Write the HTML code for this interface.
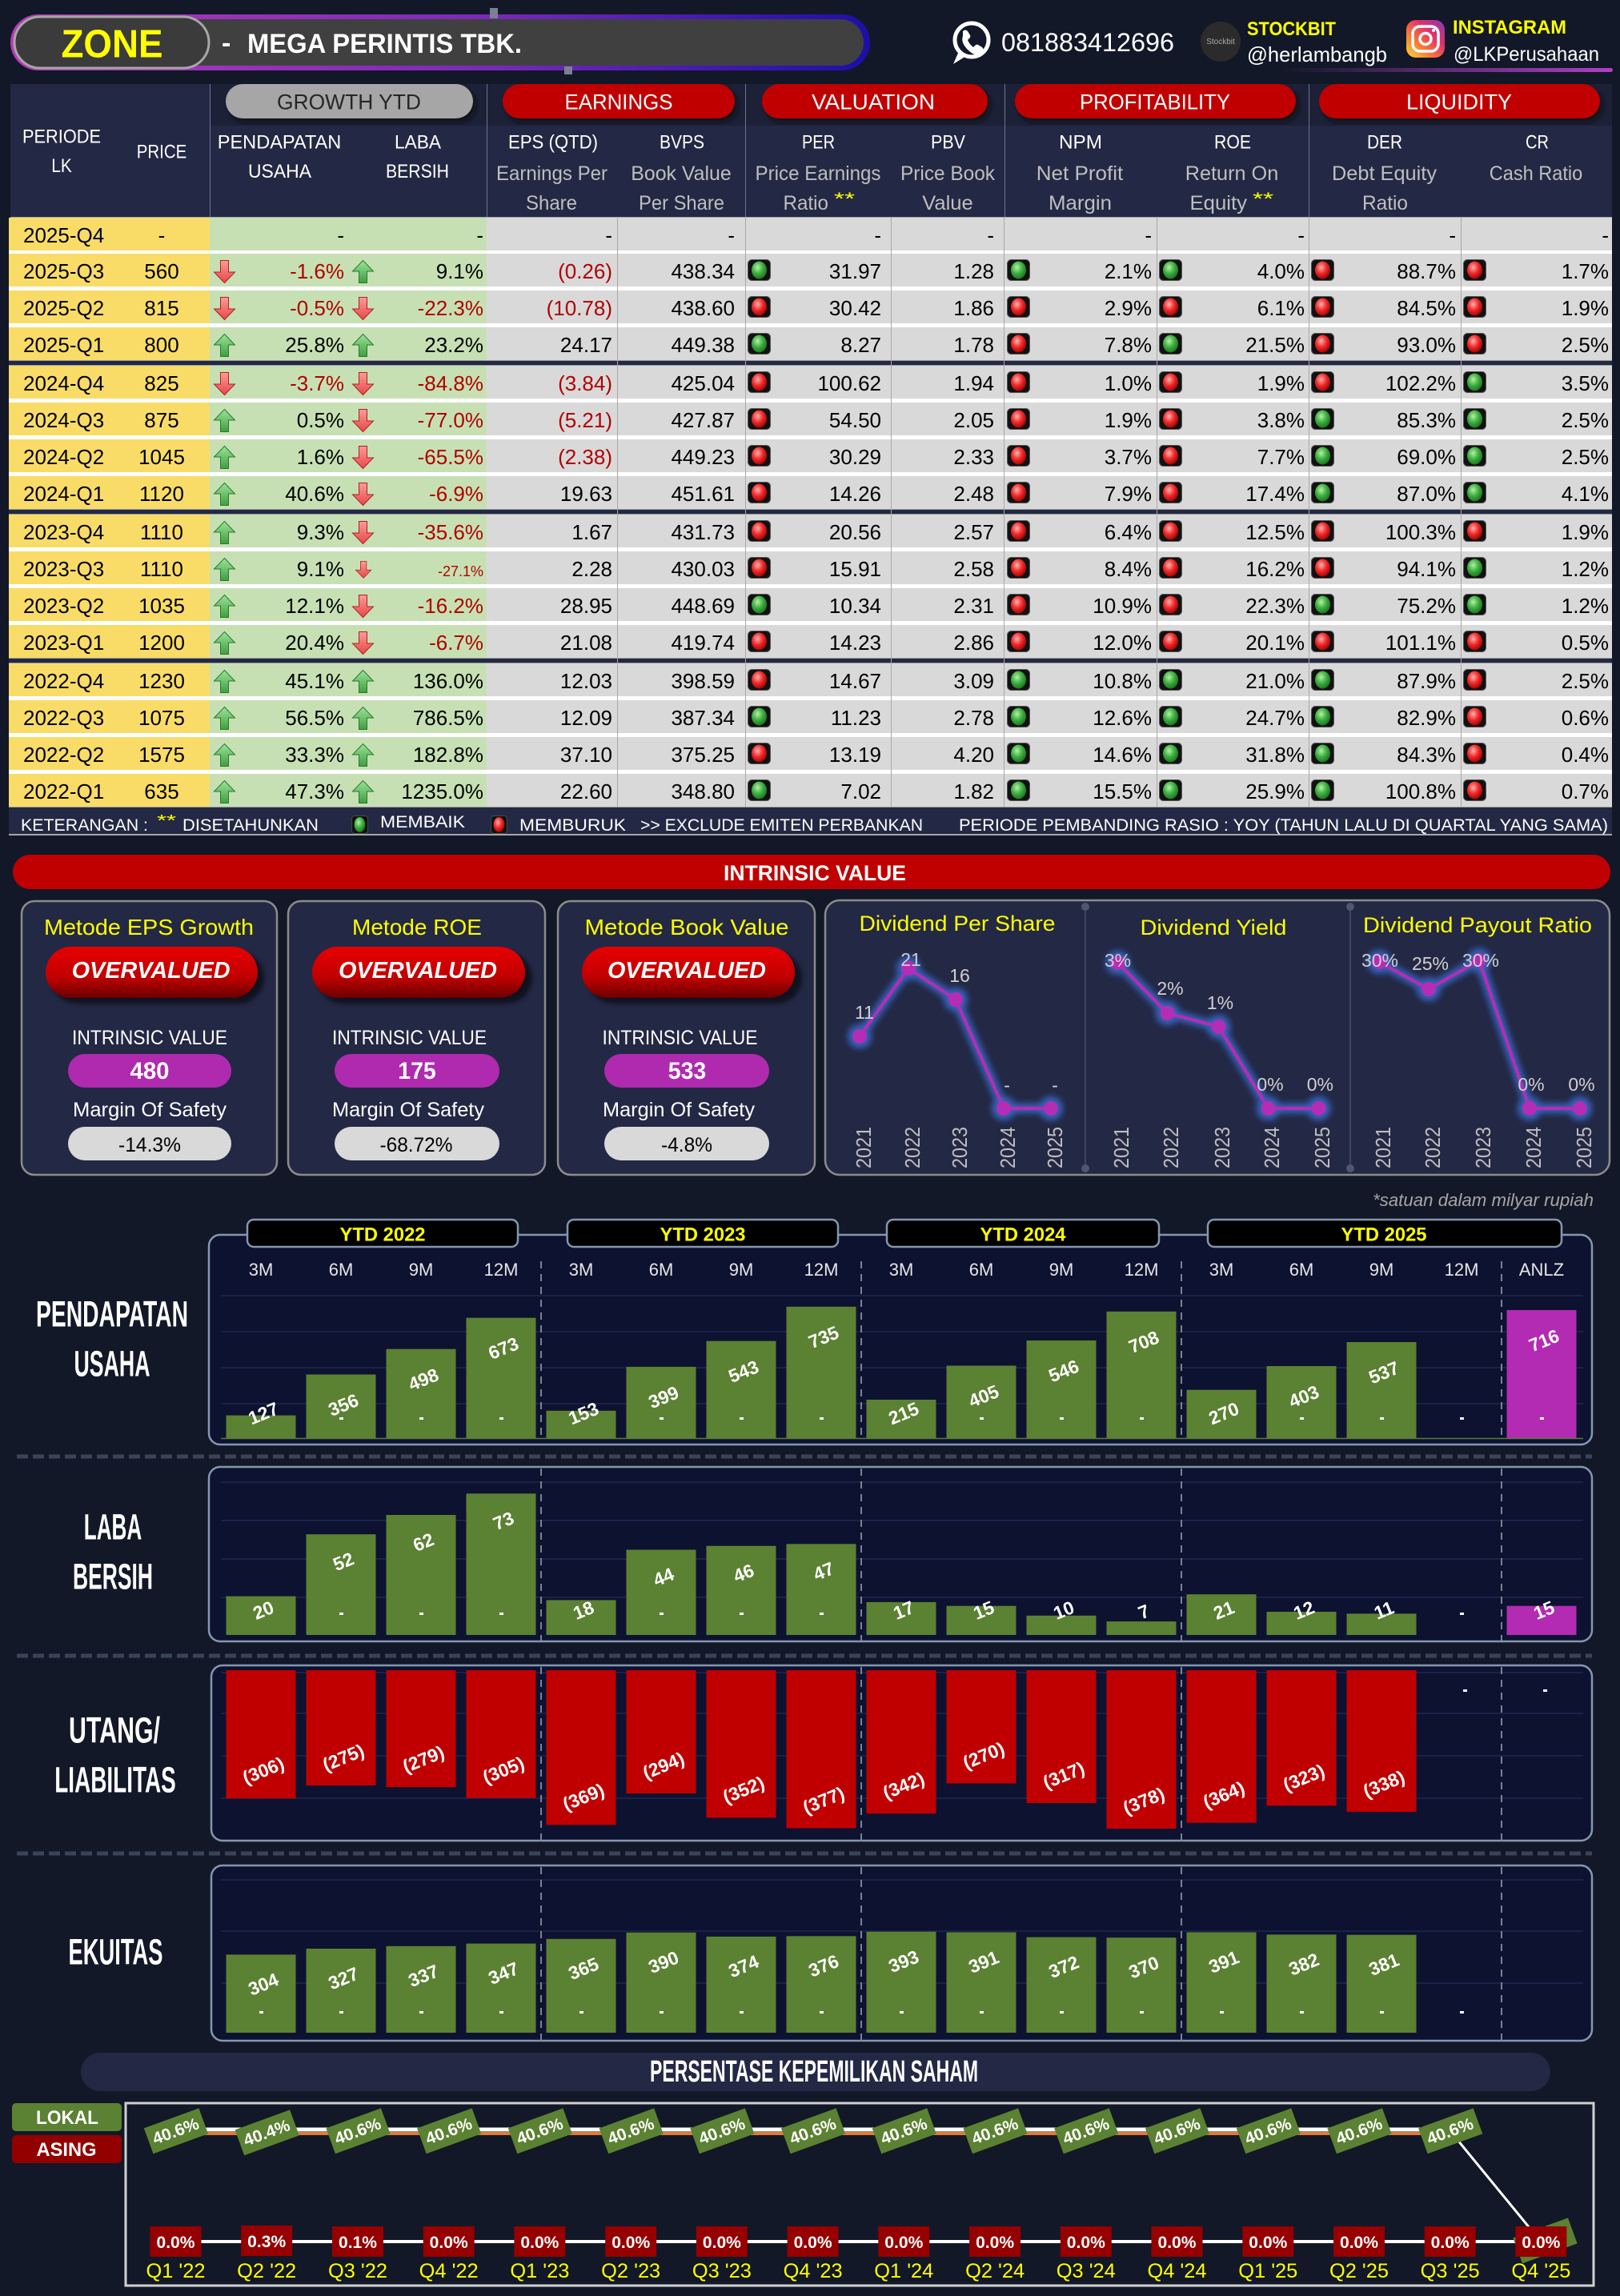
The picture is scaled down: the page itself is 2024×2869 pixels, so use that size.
<!DOCTYPE html>
<html><head><meta charset="utf-8">
<style>
html,body{margin:0;padding:0;background:#121827;width:2024px;height:2869px;overflow:hidden}
svg{display:block}
text{font-family:"Liberation Sans",sans-serif}
.m{text-anchor:middle}.e{text-anchor:end}.b{font-weight:bold}.w{fill:#fff}.yl{fill:#ff0}.n{fill:#b00000}
.tb text{font-size:26px;fill:#000}
.tb text.n{fill:#b00000}
.sh{font-size:24px;fill:#fff;text-anchor:middle}
.sg{font-size:25px;fill:#bfbfbf;text-anchor:middle}
.bl{font-size:23px;font-weight:bold;fill:#fff;text-anchor:middle}
.ml{font-size:22px;fill:#e6e6e6;text-anchor:middle}
.sl{font-size:45px;font-weight:bold;fill:#fff;text-anchor:middle}
.dv{font-size:23px;fill:#d0d0d0;text-anchor:middle}
.yr{font-size:26px;fill:#bfbfbf;text-anchor:middle}
.ol{font-size:21px;font-weight:bold;fill:#fff;text-anchor:middle}
.xl{font-size:25px;fill:#ff0;text-anchor:middle}
.lgt{font-size:21px;fill:#fff}
</style></head>
<body>
<svg xmlns="http://www.w3.org/2000/svg" width="2024" height="2869" viewBox="0 0 2024 2869">
<defs>
<linearGradient id="ring" x1="0" x2="1"><stop offset="0" stop-color="#b43ab8"/><stop offset=".55" stop-color="#7a2ab8"/><stop offset="1" stop-color="#1c0fa6"/></linearGradient>
<linearGradient id="hl" x1="0" x2="1"><stop offset="0" stop-color="#b040c8" stop-opacity="0"/><stop offset="1" stop-color="#b040c8"/></linearGradient>
<linearGradient id="ig" x1="0" y1="1" x2="1" y2="0"><stop offset="0" stop-color="#fdd835"/><stop offset=".35" stop-color="#f77737"/><stop offset=".65" stop-color="#e1306c"/><stop offset="1" stop-color="#833ab4"/></linearGradient>
<linearGradient id="ov" x1="0" y1="0" x2="0" y2="1"><stop offset="0" stop-color="#e80000"/><stop offset=".6" stop-color="#c00000"/><stop offset="1" stop-color="#6a0000"/></linearGradient>
<linearGradient id="ug" x1="0" y1="0" x2="0" y2="1"><stop offset="0" stop-color="#9be39b"/><stop offset="1" stop-color="#3f9e3f"/></linearGradient>
<linearGradient id="dg" x1="0" y1="0" x2="0" y2="1"><stop offset="0" stop-color="#ff9a9a"/><stop offset="1" stop-color="#e54848"/></linearGradient>
<radialGradient id="glg" cx=".4" cy=".35" r=".7"><stop offset="0" stop-color="#b6f0a0"/><stop offset=".5" stop-color="#3cb043"/><stop offset="1" stop-color="#1b6e1b"/></radialGradient>
<radialGradient id="rlg" cx=".4" cy=".35" r=".7"><stop offset="0" stop-color="#ffb0b0"/><stop offset=".5" stop-color="#f02a2a"/><stop offset="1" stop-color="#9a0000"/></radialGradient>
<filter id="blur" x="-30%" y="-30%" width="160%" height="160%"><feGaussianBlur stdDeviation="4"/></filter>
<filter id="sb" x="-20%" y="-30%" width="140%" height="160%"><feGaussianBlur stdDeviation="3"/></filter>
<g id="up"><polygon points="13.5,0.5 26.5,14 18.5,14 18.5,28.5 8.5,28.5 8.5,14 0.5,14" fill="url(#ug)" stroke="#2b7a2b" stroke-width="1"/></g>
<g id="dn"><polygon points="13.5,28.5 26.5,15 18.5,15 18.5,0.5 8.5,0.5 8.5,15 0.5,15" fill="url(#dg)" stroke="#b02020" stroke-width="1"/></g>
<g id="lg"><rect x=".5" y=".5" width="28" height="26" rx="5" fill="#111" stroke="#555"/><ellipse cx="14.5" cy="13.5" rx="9.5" ry="11" fill="url(#glg)"/></g>
<g id="lr"><rect x=".5" y=".5" width="28" height="26" rx="5" fill="#111" stroke="#555"/><ellipse cx="14.5" cy="13.5" rx="9.5" ry="11" fill="url(#rlg)"/></g>
<g id="rb"><rect x="11" width="251" height="41" fill="#f9dc67"/><rect x="262" width="346" height="41" fill="#c6e0b4"/><rect x="608" width="1406" height="41" fill="#d9d9d9"/></g>
<g id="gb"><rect x="-36" y="-17" width="73" height="34" fill="#5b8132"/></g>
</defs>

<rect width="2024" height="2869" fill="#121827"/>

<!-- HEADER -->
<rect x="13" y="18" width="1074" height="70" rx="35" fill="url(#ring)"/>
<rect x="19" y="24" width="1060" height="58" rx="29" fill="#404040"/>
<rect x="18" y="21" width="243" height="64" rx="32" fill="#3b3b3b" stroke="#a6a6a6" stroke-width="3"/>
<text x="140" y="71.5" class="m b" font-size="49" fill="#ff0" textLength="127" lengthAdjust="spacingAndGlyphs">ZONE</text>
<text x="277" y="65" class="b w" font-size="34">-</text>
<text x="309" y="66" class="b w" font-size="34" textLength="343" lengthAdjust="spacingAndGlyphs">MEGA PERINTIS TBK.</text>
<rect x="612" y="10" width="10" height="13" fill="#7d7f95"/>
<rect x="705" y="83" width="10" height="10" fill="#7d7f95"/>

<circle cx="1214" cy="50" r="21" fill="none" stroke="#fff" stroke-width="5"/>
<path d="M1198 64 L1191 80 L1207 70 Z" fill="#fff"/>
<path d="M1203 39 q3 -3 6 0 l3 5 q1 2 -1 4 l-2 2 q2 5 7 9 l2 -2 q2 -2 4 -1 l5 3 q3 3 0 6 l-3 3 q-6 3 -15 -6 q-9 -9 -6 -17 z" fill="#fff"/>
<text x="1251" y="64" class="w" font-size="32" textLength="216" lengthAdjust="spacingAndGlyphs">081883412696</text>
<circle cx="1525" cy="52" r="25" fill="#2b2b2b"/>
<text x="1525" y="55" class="m" font-size="10" fill="#aaa">Stockbit</text>
<text x="1558" y="44" class="b" font-size="24" fill="#ff0" textLength="111" lengthAdjust="spacingAndGlyphs">STOCKBIT</text>
<text x="1558" y="77" class="w" font-size="26" textLength="175" lengthAdjust="spacingAndGlyphs">@herlambangb</text>
<rect x="1757" y="25" width="48" height="47" rx="12" fill="url(#ig)"/>
<rect x="1765" y="33" width="32" height="31" rx="9" fill="none" stroke="#fff" stroke-width="3.5"/>
<circle cx="1781" cy="48.5" r="7" fill="none" stroke="#fff" stroke-width="3.5"/>
<circle cx="1791" cy="38" r="2" fill="#fff"/>
<text x="1815" y="42" class="b" font-size="24" fill="#ff0" textLength="142" lengthAdjust="spacingAndGlyphs">INSTAGRAM</text>
<text x="1816" y="76" class="w" font-size="25" textLength="182" lengthAdjust="spacingAndGlyphs">@LKPerusahaan</text>
<rect x="1600" y="85" width="415" height="5" rx="2.5" fill="url(#hl)"/>

<!-- TABLE HEADER -->
<rect x="13" y="105" width="2001" height="166" fill="#232944"/>
<rect x="262" y="105" width="1752" height="52" fill="#1c2138"/>
<g stroke="#6d7390" stroke-width="1">
<line x1="262.5" y1="105" x2="262.5" y2="271"/><line x1="608.5" y1="105" x2="608.5" y2="271"/><line x1="931.5" y1="105" x2="931.5" y2="271"/><line x1="1255.5" y1="105" x2="1255.5" y2="271"/><line x1="1635.5" y1="105" x2="1635.5" y2="271"/>
</g>
<g fill="#07090f" opacity=".7" filter="url(#sb)">
<rect x="286" y="110" width="309" height="43" rx="21.5"/><rect x="632" y="110" width="290" height="43" rx="21.5"/><rect x="956" y="110" width="282" height="43" rx="21.5"/><rect x="1272" y="110" width="351" height="43" rx="21.5"/><rect x="1652" y="110" width="351" height="43" rx="21.5"/>
</g>
<rect x="282" y="105" width="309" height="43" rx="21.5" fill="#a6a6a6"/>
<rect x="628" y="105" width="290" height="43" rx="21.5" fill="#c00000"/>
<rect x="952" y="105" width="282" height="43" rx="21.5" fill="#c00000"/>
<rect x="1268" y="105" width="351" height="43" rx="21.5" fill="#c00000"/>
<rect x="1648" y="105" width="351" height="43" rx="21.5" fill="#c00000"/>
<text x="436" y="136.5" class="m" font-size="27" fill="#262626" textLength="180" lengthAdjust="spacingAndGlyphs">GROWTH YTD</text>
<text x="773" y="136.5" class="m w" font-size="27" textLength="135" lengthAdjust="spacingAndGlyphs">EARNINGS</text>
<text x="1091" y="136.5" class="m w" font-size="27" textLength="154" lengthAdjust="spacingAndGlyphs">VALUATION</text>
<text x="1443" y="136.5" class="m w" font-size="27" textLength="188" lengthAdjust="spacingAndGlyphs">PROFITABILITY</text>
<text x="1823" y="136.5" class="m w" font-size="27" textLength="132" lengthAdjust="spacingAndGlyphs">LIQUIDITY</text>

<text x="77" y="178.5" class="sh" textLength="98" lengthAdjust="spacingAndGlyphs">PERIODE</text>
<text x="77" y="215" class="sh" textLength="25.5" lengthAdjust="spacingAndGlyphs">LK</text>
<text x="202" y="197.5" class="sh" textLength="62.5" lengthAdjust="spacingAndGlyphs">PRICE</text>
<text x="349" y="185.5" class="sh" textLength="154.5" lengthAdjust="spacingAndGlyphs">PENDAPATAN</text>
<text x="349.5" y="222" class="sh" textLength="79" lengthAdjust="spacingAndGlyphs">USAHA</text>
<text x="522" y="185.5" class="sh" textLength="58" lengthAdjust="spacingAndGlyphs">LABA</text>
<text x="521.5" y="222" class="sh" textLength="79" lengthAdjust="spacingAndGlyphs">BERSIH</text>
<text x="691" y="185.5" class="sh" textLength="112" lengthAdjust="spacingAndGlyphs">EPS (QTD)</text>
<text x="689.5" y="225" class="sg" textLength="139" lengthAdjust="spacingAndGlyphs">Earnings Per</text>
<text x="689" y="262" class="sg" textLength="64" lengthAdjust="spacingAndGlyphs">Share</text>
<text x="852" y="185.5" class="sh" textLength="56" lengthAdjust="spacingAndGlyphs">BVPS</text>
<text x="851" y="225" class="sg" textLength="125.5" lengthAdjust="spacingAndGlyphs">Book Value</text>
<text x="851.5" y="262" class="sg" textLength="107" lengthAdjust="spacingAndGlyphs">Per Share</text>
<text x="1022.5" y="185.5" class="sh" textLength="41" lengthAdjust="spacingAndGlyphs">PER</text>
<text x="1022" y="225" class="sg" textLength="157" lengthAdjust="spacingAndGlyphs">Price Earnings</text>
<text x="978.5" y="262" font-size="25" fill="#bfbfbf" textLength="56.5" lengthAdjust="spacingAndGlyphs">Ratio</text>
<text x="1042" y="256" font-size="22" fill="#ff0" textLength="26" lengthAdjust="spacingAndGlyphs">**</text>
<text x="1184.5" y="185.5" class="sh" textLength="43" lengthAdjust="spacingAndGlyphs">PBV</text>
<text x="1184" y="225" class="sg" textLength="118" lengthAdjust="spacingAndGlyphs">Price Book</text>
<text x="1184" y="262" class="sg" textLength="63.5" lengthAdjust="spacingAndGlyphs">Value</text>
<text x="1350" y="185.5" class="sh" textLength="54" lengthAdjust="spacingAndGlyphs">NPM</text>
<text x="1349" y="225" class="sg" textLength="108.5" lengthAdjust="spacingAndGlyphs">Net Profit</text>
<text x="1349.5" y="262" class="sg" textLength="79" lengthAdjust="spacingAndGlyphs">Margin</text>
<text x="1540" y="185.5" class="sh" textLength="46" lengthAdjust="spacingAndGlyphs">ROE</text>
<text x="1539" y="225" class="sg" textLength="116.5" lengthAdjust="spacingAndGlyphs">Return On</text>
<text x="1486.5" y="262" font-size="25" fill="#bfbfbf" textLength="71.5" lengthAdjust="spacingAndGlyphs">Equity</text>
<text x="1565" y="256" font-size="22" fill="#ff0" textLength="26" lengthAdjust="spacingAndGlyphs">**</text>
<text x="1730" y="185.5" class="sh" textLength="44" lengthAdjust="spacingAndGlyphs">DER</text>
<text x="1729.5" y="225" class="sg" textLength="131" lengthAdjust="spacingAndGlyphs">Debt Equity</text>
<text x="1730.5" y="262" class="sg" textLength="57" lengthAdjust="spacingAndGlyphs">Ratio</text>
<text x="1920.5" y="185.5" class="sh" textLength="29" lengthAdjust="spacingAndGlyphs">CR</text>
<text x="1919" y="225" class="sg" textLength="116.5" lengthAdjust="spacingAndGlyphs">Cash Ratio</text>
<line x1="13" y1="271.5" x2="2014" y2="271.5" stroke="#a6a6a6"/>

<!-- TABLE BODY -->
<rect x="11" y="272" width="2003" height="736" fill="#fff"/>
<use href="#rb" y="272"/><use href="#rb" y="317"/><use href="#rb" y="363"/><use href="#rb" y="409"/>
<use href="#rb" y="457"/><use href="#rb" y="503"/><use href="#rb" y="549"/><use href="#rb" y="595"/>
<use href="#rb" y="643"/><use href="#rb" y="689"/><use href="#rb" y="735"/><use href="#rb" y="781"/>
<use href="#rb" y="829"/><use href="#rb" y="875"/><use href="#rb" y="921"/><use href="#rb" y="967"/>
<g fill="#232944"><rect x="11" y="450" width="2003" height="7"/><rect x="11" y="636" width="2003" height="7"/><rect x="11" y="822" width="2003" height="7"/><rect x="11" y="1008" width="2003" height="35"/></g>
<g stroke="#9a9a9a" stroke-width="1">
<line x1="11" y1="450.5" x2="2014" y2="450.5"/><line x1="11" y1="456.5" x2="2014" y2="456.5"/>
<line x1="11" y1="636.5" x2="2014" y2="636.5"/><line x1="11" y1="642.5" x2="2014" y2="642.5"/>
<line x1="11" y1="822.5" x2="2014" y2="822.5"/><line x1="11" y1="828.5" x2="2014" y2="828.5"/>
<line x1="11" y1="1008.5" x2="2014" y2="1008.5"/>
</g>
<g stroke="#a8a8a8" stroke-width="1">
<line x1="771.5" y1="272" x2="771.5" y2="1008"/><line x1="931.5" y1="272" x2="931.5" y2="1008"/><line x1="1113.5" y1="272" x2="1113.5" y2="1008"/><line x1="1254.5" y1="272" x2="1254.5" y2="1008"/><line x1="1445.5" y1="272" x2="1445.5" y2="1008"/><line x1="1635.5" y1="272" x2="1635.5" y2="1008"/><line x1="1825.5" y1="272" x2="1825.5" y2="1008"/>
</g>

<g class="tb">
<g transform="translate(0,303)"><text x="29">2025-Q4</text><text x="202" class="m">-</text><text x="430" class="e">-</text><text x="604" class="e">-</text><text x="765" class="e">-</text><text x="918" class="e">-</text><text x="1101" class="e">-</text><text x="1242" class="e">-</text><text x="1439" class="e">-</text><text x="1630" class="e">-</text><text x="1819" class="e">-</text><text x="2010" class="e">-</text></g>

<g transform="translate(0,348)"><text x="29">2025-Q3</text><text x="202" class="m">560</text><use href="#dn" x="267" y="-23"/><text x="430" class="e n">-1.6%</text><use href="#up" x="440" y="-23"/><text x="604" class="e">9.1%</text><text x="765" class="e n">(0.26)</text><text x="918" class="e">438.34</text><use href="#lg" x="934" y="-24"/><text x="1101" class="e">31.97</text><text x="1242" class="e">1.28</text><use href="#lg" x="1258" y="-24"/><text x="1439" class="e">2.1%</text><use href="#lg" x="1448" y="-24"/><text x="1630" class="e">4.0%</text><use href="#lr" x="1638" y="-24"/><text x="1819" class="e">88.7%</text><use href="#lr" x="1828" y="-24"/><text x="2010" class="e">1.7%</text></g>

<g transform="translate(0,394)"><text x="29">2025-Q2</text><text x="202" class="m">815</text><use href="#dn" x="267" y="-23"/><text x="430" class="e n">-0.5%</text><use href="#dn" x="440" y="-23"/><text x="604" class="e n">-22.3%</text><text x="765" class="e n">(10.78)</text><text x="918" class="e">438.60</text><use href="#lr" x="934" y="-24"/><text x="1101" class="e">30.42</text><text x="1242" class="e">1.86</text><use href="#lr" x="1258" y="-24"/><text x="1439" class="e">2.9%</text><use href="#lr" x="1448" y="-24"/><text x="1630" class="e">6.1%</text><use href="#lr" x="1638" y="-24"/><text x="1819" class="e">84.5%</text><use href="#lr" x="1828" y="-24"/><text x="2010" class="e">1.9%</text></g>

<g transform="translate(0,440)"><text x="29">2025-Q1</text><text x="202" class="m">800</text><use href="#up" x="267" y="-23"/><text x="430" class="e">25.8%</text><use href="#up" x="440" y="-23"/><text x="604" class="e">23.2%</text><text x="765" class="e">24.17</text><text x="918" class="e">449.38</text><use href="#lg" x="934" y="-24"/><text x="1101" class="e">8.27</text><text x="1242" class="e">1.78</text><use href="#lr" x="1258" y="-24"/><text x="1439" class="e">7.8%</text><use href="#lg" x="1448" y="-24"/><text x="1630" class="e">21.5%</text><use href="#lr" x="1638" y="-24"/><text x="1819" class="e">93.0%</text><use href="#lr" x="1828" y="-24"/><text x="2010" class="e">2.5%</text></g>

<g transform="translate(0,488)"><text x="29">2024-Q4</text><text x="202" class="m">825</text><use href="#dn" x="267" y="-23"/><text x="430" class="e n">-3.7%</text><use href="#dn" x="440" y="-23"/><text x="604" class="e n">-84.8%</text><text x="765" class="e n">(3.84)</text><text x="918" class="e">425.04</text><use href="#lr" x="934" y="-24"/><text x="1101" class="e">100.62</text><text x="1242" class="e">1.94</text><use href="#lr" x="1258" y="-24"/><text x="1439" class="e">1.0%</text><use href="#lr" x="1448" y="-24"/><text x="1630" class="e">1.9%</text><use href="#lr" x="1638" y="-24"/><text x="1819" class="e">102.2%</text><use href="#lg" x="1828" y="-24"/><text x="2010" class="e">3.5%</text></g>

<g transform="translate(0,534)"><text x="29">2024-Q3</text><text x="202" class="m">875</text><use href="#up" x="267" y="-23"/><text x="430" class="e">0.5%</text><use href="#dn" x="440" y="-23"/><text x="604" class="e n">-77.0%</text><text x="765" class="e n">(5.21)</text><text x="918" class="e">427.87</text><use href="#lr" x="934" y="-24"/><text x="1101" class="e">54.50</text><text x="1242" class="e">2.05</text><use href="#lr" x="1258" y="-24"/><text x="1439" class="e">1.9%</text><use href="#lr" x="1448" y="-24"/><text x="1630" class="e">3.8%</text><use href="#lg" x="1638" y="-24"/><text x="1819" class="e">85.3%</text><use href="#lg" x="1828" y="-24"/><text x="2010" class="e">2.5%</text></g>

<g transform="translate(0,580)"><text x="29">2024-Q2</text><text x="202" class="m">1045</text><use href="#up" x="267" y="-23"/><text x="430" class="e">1.6%</text><use href="#dn" x="440" y="-23"/><text x="604" class="e n">-65.5%</text><text x="765" class="e n">(2.38)</text><text x="918" class="e">449.23</text><use href="#lr" x="934" y="-24"/><text x="1101" class="e">30.29</text><text x="1242" class="e">2.33</text><use href="#lr" x="1258" y="-24"/><text x="1439" class="e">3.7%</text><use href="#lr" x="1448" y="-24"/><text x="1630" class="e">7.7%</text><use href="#lg" x="1638" y="-24"/><text x="1819" class="e">69.0%</text><use href="#lg" x="1828" y="-24"/><text x="2010" class="e">2.5%</text></g>

<g transform="translate(0,626)"><text x="29">2024-Q1</text><text x="202" class="m">1120</text><use href="#up" x="267" y="-23"/><text x="430" class="e">40.6%</text><use href="#dn" x="440" y="-23"/><text x="604" class="e n">-6.9%</text><text x="765" class="e">19.63</text><text x="918" class="e">451.61</text><use href="#lr" x="934" y="-24"/><text x="1101" class="e">14.26</text><text x="1242" class="e">2.48</text><use href="#lr" x="1258" y="-24"/><text x="1439" class="e">7.9%</text><use href="#lr" x="1448" y="-24"/><text x="1630" class="e">17.4%</text><use href="#lg" x="1638" y="-24"/><text x="1819" class="e">87.0%</text><use href="#lg" x="1828" y="-24"/><text x="2010" class="e">4.1%</text></g>

<g transform="translate(0,674)"><text x="29">2023-Q4</text><text x="202" class="m">1110</text><use href="#up" x="267" y="-23"/><text x="430" class="e">9.3%</text><use href="#dn" x="440" y="-23"/><text x="604" class="e n">-35.6%</text><text x="765" class="e">1.67</text><text x="918" class="e">431.73</text><use href="#lr" x="934" y="-24"/><text x="1101" class="e">20.56</text><text x="1242" class="e">2.57</text><use href="#lr" x="1258" y="-24"/><text x="1439" class="e">6.4%</text><use href="#lr" x="1448" y="-24"/><text x="1630" class="e">12.5%</text><use href="#lr" x="1638" y="-24"/><text x="1819" class="e">100.3%</text><use href="#lr" x="1828" y="-24"/><text x="2010" class="e">1.9%</text></g>

<g transform="translate(0,720)"><text x="29">2023-Q3</text><text x="202" class="m">1110</text><use href="#up" x="267" y="-23"/><text x="430" class="e">9.1%</text><use href="#dn" transform="translate(444,-19) scale(.75)"/><text x="604" class="e n" style="font-size:18px">-27.1%</text><text x="765" class="e">2.28</text><text x="918" class="e">430.03</text><use href="#lr" x="934" y="-24"/><text x="1101" class="e">15.91</text><text x="1242" class="e">2.58</text><use href="#lr" x="1258" y="-24"/><text x="1439" class="e">8.4%</text><use href="#lr" x="1448" y="-24"/><text x="1630" class="e">16.2%</text><use href="#lr" x="1638" y="-24"/><text x="1819" class="e">94.1%</text><use href="#lg" x="1828" y="-24"/><text x="2010" class="e">1.2%</text></g>

<g transform="translate(0,766)"><text x="29">2023-Q2</text><text x="202" class="m">1035</text><use href="#up" x="267" y="-23"/><text x="430" class="e">12.1%</text><use href="#dn" x="440" y="-23"/><text x="604" class="e n">-16.2%</text><text x="765" class="e">28.95</text><text x="918" class="e">448.69</text><use href="#lg" x="934" y="-24"/><text x="1101" class="e">10.34</text><text x="1242" class="e">2.31</text><use href="#lr" x="1258" y="-24"/><text x="1439" class="e">10.9%</text><use href="#lr" x="1448" y="-24"/><text x="1630" class="e">22.3%</text><use href="#lg" x="1638" y="-24"/><text x="1819" class="e">75.2%</text><use href="#lg" x="1828" y="-24"/><text x="2010" class="e">1.2%</text></g>

<g transform="translate(0,812)"><text x="29">2023-Q1</text><text x="202" class="m">1200</text><use href="#up" x="267" y="-23"/><text x="430" class="e">20.4%</text><use href="#dn" x="440" y="-23"/><text x="604" class="e n">-6.7%</text><text x="765" class="e">21.08</text><text x="918" class="e">419.74</text><use href="#lr" x="934" y="-24"/><text x="1101" class="e">14.23</text><text x="1242" class="e">2.86</text><use href="#lr" x="1258" y="-24"/><text x="1439" class="e">12.0%</text><use href="#lr" x="1448" y="-24"/><text x="1630" class="e">20.1%</text><use href="#lr" x="1638" y="-24"/><text x="1819" class="e">101.1%</text><use href="#lr" x="1828" y="-24"/><text x="2010" class="e">0.5%</text></g>

<g transform="translate(0,860)"><text x="29">2022-Q4</text><text x="202" class="m">1230</text><use href="#up" x="267" y="-23"/><text x="430" class="e">45.1%</text><use href="#up" x="440" y="-23"/><text x="604" class="e">136.0%</text><text x="765" class="e">12.03</text><text x="918" class="e">398.59</text><use href="#lr" x="934" y="-24"/><text x="1101" class="e">14.67</text><text x="1242" class="e">3.09</text><use href="#lg" x="1258" y="-24"/><text x="1439" class="e">10.8%</text><use href="#lg" x="1448" y="-24"/><text x="1630" class="e">21.0%</text><use href="#lg" x="1638" y="-24"/><text x="1819" class="e">87.9%</text><use href="#lr" x="1828" y="-24"/><text x="2010" class="e">2.5%</text></g>

<g transform="translate(0,906)"><text x="29">2022-Q3</text><text x="202" class="m">1075</text><use href="#up" x="267" y="-23"/><text x="430" class="e">56.5%</text><use href="#up" x="440" y="-23"/><text x="604" class="e">786.5%</text><text x="765" class="e">12.09</text><text x="918" class="e">387.34</text><use href="#lg" x="934" y="-24"/><text x="1101" class="e">11.23</text><text x="1242" class="e">2.78</text><use href="#lg" x="1258" y="-24"/><text x="1439" class="e">12.6%</text><use href="#lg" x="1448" y="-24"/><text x="1630" class="e">24.7%</text><use href="#lg" x="1638" y="-24"/><text x="1819" class="e">82.9%</text><use href="#lr" x="1828" y="-24"/><text x="2010" class="e">0.6%</text></g>

<g transform="translate(0,952)"><text x="29">2022-Q2</text><text x="202" class="m">1575</text><use href="#up" x="267" y="-23"/><text x="430" class="e">33.3%</text><use href="#up" x="440" y="-23"/><text x="604" class="e">182.8%</text><text x="765" class="e">37.10</text><text x="918" class="e">375.25</text><use href="#lr" x="934" y="-24"/><text x="1101" class="e">13.19</text><text x="1242" class="e">4.20</text><use href="#lg" x="1258" y="-24"/><text x="1439" class="e">14.6%</text><use href="#lg" x="1448" y="-24"/><text x="1630" class="e">31.8%</text><use href="#lg" x="1638" y="-24"/><text x="1819" class="e">84.3%</text><use href="#lr" x="1828" y="-24"/><text x="2010" class="e">0.4%</text></g>

<g transform="translate(0,998)"><text x="29">2022-Q1</text><text x="202" class="m">635</text><use href="#up" x="267" y="-23"/><text x="430" class="e">47.3%</text><use href="#up" x="440" y="-23"/><text x="604" class="e">1235.0%</text><text x="765" class="e">22.60</text><text x="918" class="e">348.80</text><use href="#lg" x="934" y="-24"/><text x="1101" class="e">7.02</text><text x="1242" class="e">1.82</text><use href="#lg" x="1258" y="-24"/><text x="1439" class="e">15.5%</text><use href="#lg" x="1448" y="-24"/><text x="1630" class="e">25.9%</text><use href="#lg" x="1638" y="-24"/><text x="1819" class="e">100.8%</text><use href="#lr" x="1828" y="-24"/><text x="2010" class="e">0.7%</text></g>
</g>

<!-- LEGEND ROW -->
<line x1="11" y1="1043" x2="2014" y2="1043" stroke="#a6a6a6" stroke-width="2"/>
<text x="26" y="1038" class="lgt" textLength="159" lengthAdjust="spacingAndGlyphs">KETERANGAN :</text>
<text x="196" y="1032" font-size="20" fill="#ff0" textLength="24" lengthAdjust="spacingAndGlyphs">**</text>
<text x="228" y="1038" class="lgt" textLength="170" lengthAdjust="spacingAndGlyphs">DISETAHUNKAN</text>
<use href="#lg" transform="translate(439,1019) scale(.72,.85)"/>
<text x="475" y="1034" class="lgt" textLength="106" lengthAdjust="spacingAndGlyphs">MEMBAIK</text>
<use href="#lr" transform="translate(613,1019) scale(.72,.85)"/>
<text x="649" y="1038" class="lgt" textLength="133" lengthAdjust="spacingAndGlyphs">MEMBURUK</text>
<text x="800" y="1038" class="lgt" textLength="353" lengthAdjust="spacingAndGlyphs">&gt;&gt; EXCLUDE EMITEN PERBANKAN</text>
<text x="1198" y="1038" class="lgt" textLength="811" lengthAdjust="spacingAndGlyphs">PERIODE PEMBANDING RASIO : YOY (TAHUN LALU DI QUARTAL YANG SAMA)</text>

<!-- INTRINSIC VALUE -->
<rect x="16" y="1068" width="1996" height="43" rx="21.5" fill="#c00000"/>
<text x="1018" y="1100" class="m b w" font-size="27" textLength="228" lengthAdjust="spacingAndGlyphs">INTRINSIC VALUE</text>

<g stroke="#8c8c8c" stroke-width="2.5" fill="#232845">
<rect x="27" y="1126" width="319" height="342" rx="16"/>
<rect x="360" y="1126" width="321" height="342" rx="16"/>
<rect x="697" y="1126" width="321" height="342" rx="16"/>
<rect x="1031" y="1125" width="980" height="343" rx="18"/>
</g>
<g fill="#000" opacity=".55" filter="url(#sb)">
<rect x="64" y="1190" width="266" height="64" rx="32"/><rect x="397" y="1190" width="268" height="64" rx="32"/><rect x="734" y="1190" width="268" height="64" rx="32"/>
</g>
<g fill="url(#ov)">
<rect x="57" y="1183" width="265" height="64" rx="32"/><rect x="390" y="1183" width="266" height="64" rx="32"/><rect x="727" y="1183" width="266" height="64" rx="32"/>
</g>
<g class="b w" font-size="29" font-style="italic">
<text x="188.6" y="1222" class="m" textLength="198" lengthAdjust="spacingAndGlyphs">OVERVALUED</text>
<text x="522" y="1222" class="m" textLength="198" lengthAdjust="spacingAndGlyphs">OVERVALUED</text>
<text x="858" y="1222" class="m" textLength="198" lengthAdjust="spacingAndGlyphs">OVERVALUED</text>
</g>
<g font-size="28" fill="#ff0">
<text x="186" y="1168" class="m" textLength="262" lengthAdjust="spacingAndGlyphs">Metode EPS Growth</text>
<text x="521" y="1168" class="m" textLength="162" lengthAdjust="spacingAndGlyphs">Metode ROE</text>
<text x="858" y="1168" class="m" textLength="255" lengthAdjust="spacingAndGlyphs">Metode Book Value</text>
</g>
<g font-size="25" fill="#fff">
<text x="187" y="1305" class="m" textLength="194" lengthAdjust="spacingAndGlyphs">INTRINSIC VALUE</text>
<text x="511.5" y="1305" class="m" textLength="193" lengthAdjust="spacingAndGlyphs">INTRINSIC VALUE</text>
<text x="849.5" y="1305" class="m" textLength="194" lengthAdjust="spacingAndGlyphs">INTRINSIC VALUE</text>
<text x="187" y="1395" class="m" textLength="192" lengthAdjust="spacingAndGlyphs">Margin Of Safety</text>
<text x="510" y="1395" class="m" textLength="190" lengthAdjust="spacingAndGlyphs">Margin Of Safety</text>
<text x="848" y="1395" class="m" textLength="190" lengthAdjust="spacingAndGlyphs">Margin Of Safety</text>
</g>
<g fill="#b02ab0"><rect x="85" y="1317" width="204" height="42" rx="21"/><rect x="418" y="1317" width="206" height="42" rx="21"/><rect x="755" y="1317" width="206" height="42" rx="21"/></g>
<g fill="#d9d9d9"><rect x="85" y="1408" width="204" height="42" rx="21"/><rect x="418" y="1408" width="206" height="42" rx="21"/><rect x="755" y="1408" width="206" height="42" rx="21"/></g>
<g class="b w" font-size="30">
<text x="187" y="1348" class="m" textLength="49" lengthAdjust="spacingAndGlyphs">480</text>
<text x="521" y="1348" class="m" textLength="47.5" lengthAdjust="spacingAndGlyphs">175</text>
<text x="858.5" y="1348" class="m" textLength="47.5" lengthAdjust="spacingAndGlyphs">533</text>
</g>
<g font-size="25" fill="#000">
<text x="187" y="1439" class="m" textLength="78" lengthAdjust="spacingAndGlyphs">-14.3%</text>
<text x="520" y="1439" class="m" textLength="91" lengthAdjust="spacingAndGlyphs">-68.72%</text>
<text x="858" y="1439" class="m" textLength="64" lengthAdjust="spacingAndGlyphs">-4.8%</text>
</g>

<!-- DIVIDEND CHARTS -->
<g stroke="#4a506a" stroke-width="1.5"><line x1="1356" y1="1133" x2="1356" y2="1460"/><line x1="1687" y1="1133" x2="1687" y2="1460"/></g>
<g fill="#50566e"><circle cx="1356" cy="1133" r="5"/><circle cx="1356" cy="1460" r="5"/><circle cx="1687" cy="1133" r="5"/><circle cx="1687" cy="1460" r="5"/></g>
<g font-size="27" fill="#ff0">
<text x="1196" y="1163" class="m" textLength="245" lengthAdjust="spacingAndGlyphs">Dividend Per Share</text>
<text x="1516" y="1168" class="m" textLength="183" lengthAdjust="spacingAndGlyphs">Dividend Yield</text>
<text x="1846" y="1165" class="m" textLength="286" lengthAdjust="spacingAndGlyphs">Dividend Payout Ratio</text>
</g>
<g filter="url(#blur)" opacity=".8">
<polyline points="1074,1295 1135,1210 1194,1249 1254,1385 1313,1385" fill="none" stroke="#3d6fd6" stroke-width="12"/>
<polyline points="1396.5,1203 1458.6,1266 1522.6,1283 1584.7,1385 1647.5,1385" fill="none" stroke="#3d6fd6" stroke-width="12"/>
<polyline points="1723,1202 1785,1236 1848,1200 1911,1385 1974,1385" fill="none" stroke="#3d6fd6" stroke-width="12"/>
<g fill="#3d6fd6"><circle cx="1074" cy="1295" r="15"/><circle cx="1135" cy="1210" r="15"/><circle cx="1194" cy="1249" r="15"/><circle cx="1254" cy="1385" r="15"/><circle cx="1313" cy="1385" r="15"/><circle cx="1396.5" cy="1203" r="15"/><circle cx="1458.6" cy="1266" r="15"/><circle cx="1522.6" cy="1283" r="15"/><circle cx="1584.7" cy="1385" r="15"/><circle cx="1647.5" cy="1385" r="15"/><circle cx="1723" cy="1202" r="15"/><circle cx="1785" cy="1236" r="15"/><circle cx="1848" cy="1200" r="15"/><circle cx="1911" cy="1385" r="15"/><circle cx="1974" cy="1385" r="15"/></g>
</g>
<g fill="none" stroke="#b42db4" stroke-width="4">
<polyline points="1074,1295 1135,1210 1194,1249 1254,1385 1313,1385"/>
<polyline points="1396.5,1203 1458.6,1266 1522.6,1283 1584.7,1385 1647.5,1385"/>
<polyline points="1723,1202 1785,1236 1848,1200 1911,1385 1974,1385"/>
</g>
<g fill="#b42db4"><circle cx="1074" cy="1295" r="9"/><circle cx="1135" cy="1210" r="9"/><circle cx="1194" cy="1249" r="9"/><circle cx="1254" cy="1385" r="9"/><circle cx="1313" cy="1385" r="9"/><circle cx="1396.5" cy="1203" r="9"/><circle cx="1458.6" cy="1266" r="9"/><circle cx="1522.6" cy="1283" r="9"/><circle cx="1584.7" cy="1385" r="9"/><circle cx="1647.5" cy="1385" r="9"/><circle cx="1723" cy="1202" r="9"/><circle cx="1785" cy="1236" r="9"/><circle cx="1848" cy="1200" r="9"/><circle cx="1911" cy="1385" r="9"/><circle cx="1974" cy="1385" r="9"/></g>
<g class="dv">
<text x="1080" y="1273">11</text><text x="1138" y="1207">21</text><text x="1199" y="1227">16</text><text x="1258" y="1364">-</text><text x="1318" y="1364">-</text>
<text x="1396.5" y="1208">3%</text><text x="1462" y="1243">2%</text><text x="1524.5" y="1261">1%</text><text x="1587" y="1363">0%</text><text x="1649.4" y="1363">0%</text>
<text x="1724" y="1208">30%</text><text x="1787" y="1212">25%</text><text x="1850" y="1208">30%</text><text x="1913" y="1363">0%</text><text x="1976" y="1363">0%</text>
</g>
<g class="yr">
<text transform="translate(1088,1434) rotate(-90)" textLength="52" lengthAdjust="spacingAndGlyphs">2021</text>
<text transform="translate(1149,1434) rotate(-90)" textLength="52" lengthAdjust="spacingAndGlyphs">2022</text>
<text transform="translate(1208,1434) rotate(-90)" textLength="52" lengthAdjust="spacingAndGlyphs">2023</text>
<text transform="translate(1268,1434) rotate(-90)" textLength="52" lengthAdjust="spacingAndGlyphs">2024</text>
<text transform="translate(1327,1434) rotate(-90)" textLength="52" lengthAdjust="spacingAndGlyphs">2025</text>
<text transform="translate(1410,1434) rotate(-90)" textLength="52" lengthAdjust="spacingAndGlyphs">2021</text>
<text transform="translate(1472,1434) rotate(-90)" textLength="52" lengthAdjust="spacingAndGlyphs">2022</text>
<text transform="translate(1536,1434) rotate(-90)" textLength="52" lengthAdjust="spacingAndGlyphs">2023</text>
<text transform="translate(1598,1434) rotate(-90)" textLength="52" lengthAdjust="spacingAndGlyphs">2024</text>
<text transform="translate(1661,1434) rotate(-90)" textLength="52" lengthAdjust="spacingAndGlyphs">2025</text>
<text transform="translate(1737,1434) rotate(-90)" textLength="52" lengthAdjust="spacingAndGlyphs">2021</text>
<text transform="translate(1799,1434) rotate(-90)" textLength="52" lengthAdjust="spacingAndGlyphs">2022</text>
<text transform="translate(1862,1434) rotate(-90)" textLength="52" lengthAdjust="spacingAndGlyphs">2023</text>
<text transform="translate(1925,1434) rotate(-90)" textLength="52" lengthAdjust="spacingAndGlyphs">2024</text>
<text transform="translate(1988,1434) rotate(-90)" textLength="52" lengthAdjust="spacingAndGlyphs">2025</text>
</g>

<!-- BAR CHART PANELS -->
<text x="1991" y="1507" class="e" font-size="22" font-style="italic" fill="#a6a6a6" textLength="276" lengthAdjust="spacingAndGlyphs">*satuan dalam milyar rupiah</text>
<g fill="#0d1230" stroke="#8497b0" stroke-width="2.5">
<rect x="261" y="1543" width="1728" height="262" rx="14"/>
<rect x="261" y="1833" width="1728" height="218" rx="14"/>
<rect x="264" y="2081" width="1725" height="219" rx="14"/>
<rect x="264" y="2331" width="1725" height="219" rx="14"/>
</g>
<g stroke="#1f2850" stroke-width="1.5">
<line x1="276" y1="1619" x2="1978" y2="1619"/><line x1="276" y1="1664" x2="1978" y2="1664"/><line x1="276" y1="1709" x2="1978" y2="1709"/><line x1="276" y1="1754" x2="1978" y2="1754"/>
<line x1="276" y1="1852" x2="1978" y2="1852"/><line x1="276" y1="1900" x2="1978" y2="1900"/><line x1="276" y1="1948" x2="1978" y2="1948"/><line x1="276" y1="1996" x2="1978" y2="1996"/>
<line x1="276" y1="2090" x2="1978" y2="2090"/><line x1="276" y1="2141" x2="1978" y2="2141"/><line x1="276" y1="2194" x2="1978" y2="2194"/><line x1="276" y1="2247" x2="1978" y2="2247"/>
<line x1="276" y1="2349" x2="1978" y2="2349"/><line x1="276" y1="2413" x2="1978" y2="2413"/><line x1="276" y1="2478" x2="1978" y2="2478"/>
</g>
<g stroke="#7a8294" stroke-width="2" stroke-dasharray="9 7">
<line x1="676" y1="1576" x2="676" y2="1800"/><line x1="1076" y1="1576" x2="1076" y2="1800"/><line x1="1476" y1="1576" x2="1476" y2="1800"/><line x1="1876" y1="1576" x2="1876" y2="1800"/>
<line x1="676" y1="1835" x2="676" y2="2050"/><line x1="1076" y1="1835" x2="1076" y2="2050"/><line x1="1476" y1="1835" x2="1476" y2="2050"/><line x1="1876" y1="1835" x2="1876" y2="2050"/>
<line x1="676" y1="2083" x2="676" y2="2300"/><line x1="1076" y1="2083" x2="1076" y2="2300"/><line x1="1476" y1="2083" x2="1476" y2="2300"/><line x1="1876" y1="2083" x2="1876" y2="2300"/>
<line x1="676" y1="2333" x2="676" y2="2552"/><line x1="1076" y1="2333" x2="1076" y2="2552"/><line x1="1476" y1="2333" x2="1476" y2="2552"/><line x1="1876" y1="2333" x2="1876" y2="2552"/>
</g>
<g stroke="#3a4458" stroke-width="5" stroke-dasharray="14 6">
<line x1="21" y1="1820" x2="1989" y2="1820"/><line x1="21" y1="2069" x2="1989" y2="2069"/><line x1="21" y1="2316" x2="1989" y2="2316"/>
</g>
<g fill="#000" stroke="#8497b0" stroke-width="2.5">
<rect x="309" y="1524" width="338" height="34" rx="8"/><rect x="709" y="1524" width="338" height="34" rx="8"/><rect x="1108" y="1524" width="340" height="34" rx="8"/><rect x="1509" y="1524" width="442" height="34" rx="8"/>
</g>
<g class="b" font-size="24" fill="#ff0">
<text x="478" y="1550.5" class="m" textLength="107" lengthAdjust="spacingAndGlyphs">YTD 2022</text>
<text x="878" y="1550.5" class="m" textLength="107" lengthAdjust="spacingAndGlyphs">YTD 2023</text>
<text x="1278" y="1550.5" class="m" textLength="107" lengthAdjust="spacingAndGlyphs">YTD 2024</text>
<text x="1729" y="1550.5" class="m" textLength="107" lengthAdjust="spacingAndGlyphs">YTD 2025</text>
</g>
<g class="ml">
<text x="326" y="1594">3M</text><text x="426" y="1594">6M</text><text x="526" y="1594">9M</text><text x="626" y="1594">12M</text>
<text x="726" y="1594">3M</text><text x="826" y="1594">6M</text><text x="926" y="1594">9M</text><text x="1026" y="1594">12M</text>
<text x="1126" y="1594">3M</text><text x="1226" y="1594">6M</text><text x="1326" y="1594">9M</text><text x="1426" y="1594">12M</text>
<text x="1526" y="1594">3M</text><text x="1626" y="1594">6M</text><text x="1726" y="1594">9M</text><text x="1826" y="1594">12M</text>
<text x="1926" y="1594">ANLZ</text>
</g>

<g class="sl">
<text x="140" y="1657.5" textLength="190" lengthAdjust="spacingAndGlyphs">PENDAPATAN</text>
<text x="140" y="1719.5" textLength="95" lengthAdjust="spacingAndGlyphs">USAHA</text>
<text x="141" y="1923.5" textLength="72.5" lengthAdjust="spacingAndGlyphs">LABA</text>
<text x="141" y="1985.5" textLength="100" lengthAdjust="spacingAndGlyphs">BERSIH</text>
<text x="143" y="2177.5" textLength="114" lengthAdjust="spacingAndGlyphs">UTANG/</text>
<text x="144" y="2239.5" textLength="151.5" lengthAdjust="spacingAndGlyphs">LIABILITAS</text>
<text x="144.5" y="2454.5" textLength="118" lengthAdjust="spacingAndGlyphs">EKUITAS</text>
</g>

<!-- Revenue bars -->
<g fill="#5b8132">
<rect x="282.5" y="1768.6" width="87" height="28.4"/><rect x="382.5" y="1717.5" width="87" height="79.5"/><rect x="482.5" y="1685.7" width="87" height="111.3"/><rect x="582.5" y="1646.7" width="87" height="150.3"/>
<rect x="682.5" y="1762.8" width="87" height="34.2"/><rect x="782.5" y="1707.9" width="87" height="89.1"/><rect x="882.5" y="1675.7" width="87" height="121.3"/><rect x="982.5" y="1632.8" width="87" height="164.2"/>
<rect x="1082.5" y="1749" width="87" height="48"/><rect x="1182.5" y="1706.5" width="87" height="90.5"/><rect x="1282.5" y="1675" width="87" height="122"/><rect x="1382.5" y="1638.8" width="87" height="158.2"/>
<rect x="1482.5" y="1736.7" width="87" height="60.3"/><rect x="1582.5" y="1707" width="87" height="90"/><rect x="1682.5" y="1677" width="87" height="120"/>
</g>
<rect x="1882.5" y="1637" width="87" height="160" fill="#b22bb2"/>
<line x1="276" y1="1797.5" x2="1978" y2="1797.5" stroke="#5b7a3a" stroke-width="1.5"/>

<!-- Laba bars -->
<g fill="#5b8132">
<rect x="282.5" y="1994.6" width="87" height="48.4"/><rect x="382.5" y="1917.2" width="87" height="125.8"/><rect x="482.5" y="1893" width="87" height="150"/><rect x="582.5" y="1866.3" width="87" height="176.7"/>
<rect x="682.5" y="1999.4" width="87" height="43.6"/><rect x="782.5" y="1936.5" width="87" height="106.5"/><rect x="882.5" y="1931.7" width="87" height="111.3"/><rect x="982.5" y="1929.3" width="87" height="113.7"/>
<rect x="1082.5" y="2001.9" width="87" height="41.1"/><rect x="1182.5" y="2006.7" width="87" height="36.3"/><rect x="1282.5" y="2018.8" width="87" height="24.2"/><rect x="1382.5" y="2026.1" width="87" height="16.9"/>
<rect x="1482.5" y="1992.2" width="87" height="50.8"/><rect x="1582.5" y="2014" width="87" height="29"/><rect x="1682.5" y="2016.4" width="87" height="26.6"/>
</g>
<rect x="1882.5" y="2006.7" width="87" height="36.3" fill="#b22bb2"/>

<!-- Utang bars -->
<g fill="#c00000">
<rect x="282.5" y="2087" width="87" height="160.3"/><rect x="382.5" y="2087" width="87" height="144.1"/><rect x="482.5" y="2087" width="87" height="146.2"/><rect x="582.5" y="2087" width="87" height="159.8"/>
<rect x="682.5" y="2087" width="87" height="193.4"/><rect x="782.5" y="2087" width="87" height="154.1"/><rect x="882.5" y="2087" width="87" height="184.4"/><rect x="982.5" y="2087" width="87" height="197.5"/>
<rect x="1082.5" y="2087" width="87" height="179.2"/><rect x="1182.5" y="2087" width="87" height="141.5"/><rect x="1282.5" y="2087" width="87" height="166.1"/><rect x="1382.5" y="2087" width="87" height="198.1"/>
<rect x="1482.5" y="2087" width="87" height="190.7"/><rect x="1582.5" y="2087" width="87" height="169.3"/><rect x="1682.5" y="2087" width="87" height="177.1"/>
</g>

<!-- Ekuitas bars -->
<g fill="#5b8132">
<rect x="282.5" y="2442.4" width="87" height="97.6"/><rect x="382.5" y="2435" width="87" height="105"/><rect x="482.5" y="2431.8" width="87" height="108.2"/><rect x="582.5" y="2428.6" width="87" height="111.4"/>
<rect x="682.5" y="2422.8" width="87" height="117.2"/><rect x="782.5" y="2414.8" width="87" height="125.2"/><rect x="882.5" y="2419.9" width="87" height="120.1"/><rect x="982.5" y="2419.3" width="87" height="120.7"/>
<rect x="1082.5" y="2413.8" width="87" height="126.2"/><rect x="1182.5" y="2414.5" width="87" height="125.5"/><rect x="1282.5" y="2420.6" width="87" height="119.4"/><rect x="1382.5" y="2421.2" width="87" height="118.8"/>
<rect x="1482.5" y="2414.5" width="87" height="125.5"/><rect x="1582.5" y="2417.4" width="87" height="122.6"/><rect x="1682.5" y="2417.7" width="87" height="122.3"/>
</g>

<!-- small dash markers -->
<path fill="#fff" d="M424 1771h5v3h-5zM524 1771h5v3h-5zM624 1771h5v3h-5zM824 1771h5v3h-5zM924 1771h5v3h-5zM1024 1771h5v3h-5zM1224 1771h5v3h-5zM1324 1771h5v3h-5zM1424 1771h5v3h-5zM1624 1771h5v3h-5zM1724 1771h5v3h-5zM1824 1771h5v3h-5zM1924 1771h5v3h-5z
M424 2015h5v3h-5zM524 2015h5v3h-5zM624 2015h5v3h-5zM824 2015h5v3h-5zM924 2015h5v3h-5zM1024 2015h5v3h-5zM1824 2015h5v3h-5z
M1828 2111h5v3h-5zM1928 2111h5v3h-5z
M324 2513h5v3h-5zM424 2513h5v3h-5zM524 2513h5v3h-5zM624 2513h5v3h-5zM724 2513h5v3h-5zM824 2513h5v3h-5zM924 2513h5v3h-5zM1024 2513h5v3h-5zM1124 2513h5v3h-5zM1224 2513h5v3h-5zM1324 2513h5v3h-5zM1424 2513h5v3h-5zM1524 2513h5v3h-5zM1624 2513h5v3h-5zM1724 2513h5v3h-5zM1824 2513h5v3h-5z"/>

<!-- bar labels -->
<g class="bl">
<text transform="translate(329 1766) rotate(-22)" y="8">127</text>
<text transform="translate(429 1755.5) rotate(-22)" y="8">356</text>
<text transform="translate(529 1723.7) rotate(-22)" y="8">498</text>
<text transform="translate(629 1684.7) rotate(-22)" y="8">673</text>
<text transform="translate(729 1766) rotate(-22)" y="8">153</text>
<text transform="translate(829 1745.9) rotate(-22)" y="8">399</text>
<text transform="translate(929 1713.7) rotate(-22)" y="8">543</text>
<text transform="translate(1029 1670.8) rotate(-22)" y="8">735</text>
<text transform="translate(1129 1766) rotate(-22)" y="8">215</text>
<text transform="translate(1229 1744.5) rotate(-22)" y="8">405</text>
<text transform="translate(1329 1713) rotate(-22)" y="8">546</text>
<text transform="translate(1429 1676.8) rotate(-22)" y="8">708</text>
<text transform="translate(1529 1766) rotate(-22)" y="8">270</text>
<text transform="translate(1629 1745) rotate(-22)" y="8">403</text>
<text transform="translate(1729 1715) rotate(-22)" y="8">537</text>
<text transform="translate(1929 1675) rotate(-22)" y="8">716</text>

<text transform="translate(329 2012) rotate(-22)" y="8">20</text>
<text transform="translate(429 1951.2) rotate(-22)" y="8">52</text>
<text transform="translate(529 1927) rotate(-22)" y="8">62</text>
<text transform="translate(629 1900.3) rotate(-22)" y="8">73</text>
<text transform="translate(729 2012) rotate(-22)" y="8">18</text>
<text transform="translate(829 1970.5) rotate(-22)" y="8">44</text>
<text transform="translate(929 1965.7) rotate(-22)" y="8">46</text>
<text transform="translate(1029 1963.3) rotate(-22)" y="8">47</text>
<text transform="translate(1129 2012) rotate(-22)" y="8">17</text>
<text transform="translate(1229 2012) rotate(-22)" y="8">15</text>
<text transform="translate(1329 2012) rotate(-22)" y="8">10</text>
<text transform="translate(1429 2014) rotate(-22)" y="8">7</text>
<text transform="translate(1529 2012) rotate(-22)" y="8">21</text>
<text transform="translate(1629 2012) rotate(-22)" y="8">12</text>
<text transform="translate(1729 2012) rotate(-22)" y="8">11</text>
<text transform="translate(1929 2012) rotate(-22)" y="8">15</text>

<text transform="translate(329 2212.3) rotate(-22)" y="8">(306)</text>
<text transform="translate(429 2196.1) rotate(-22)" y="8">(275)</text>
<text transform="translate(529 2198.2) rotate(-22)" y="8">(279)</text>
<text transform="translate(629 2211.8) rotate(-22)" y="8">(305)</text>
<text transform="translate(729 2245.4) rotate(-22)" y="8">(369)</text>
<text transform="translate(829 2206.1) rotate(-22)" y="8">(294)</text>
<text transform="translate(929 2236.4) rotate(-22)" y="8">(352)</text>
<text transform="translate(1029 2249.5) rotate(-22)" y="8">(377)</text>
<text transform="translate(1129 2231.2) rotate(-22)" y="8">(342)</text>
<text transform="translate(1229 2193.5) rotate(-22)" y="8">(270)</text>
<text transform="translate(1329 2218.1) rotate(-22)" y="8">(317)</text>
<text transform="translate(1429 2250.1) rotate(-22)" y="8">(378)</text>
<text transform="translate(1529 2242.7) rotate(-22)" y="8">(364)</text>
<text transform="translate(1629 2221.3) rotate(-22)" y="8">(323)</text>
<text transform="translate(1729 2229.1) rotate(-22)" y="8">(338)</text>

<text transform="translate(329 2479.4) rotate(-22)" y="8">304</text>
<text transform="translate(429 2472) rotate(-22)" y="8">327</text>
<text transform="translate(529 2468.8) rotate(-22)" y="8">337</text>
<text transform="translate(629 2465.6) rotate(-22)" y="8">347</text>
<text transform="translate(729 2459.8) rotate(-22)" y="8">365</text>
<text transform="translate(829 2451.8) rotate(-22)" y="8">390</text>
<text transform="translate(929 2456.9) rotate(-22)" y="8">374</text>
<text transform="translate(1029 2456.3) rotate(-22)" y="8">376</text>
<text transform="translate(1129 2450.8) rotate(-22)" y="8">393</text>
<text transform="translate(1229 2451.5) rotate(-22)" y="8">391</text>
<text transform="translate(1329 2457.6) rotate(-22)" y="8">372</text>
<text transform="translate(1429 2458.2) rotate(-22)" y="8">370</text>
<text transform="translate(1529 2451.5) rotate(-22)" y="8">391</text>
<text transform="translate(1629 2454.4) rotate(-22)" y="8">382</text>
<text transform="translate(1729 2454.7) rotate(-22)" y="8">381</text>
</g>

<!-- OWNERSHIP -->
<rect x="101" y="2565" width="1836" height="48" rx="24" fill="#232845"/>
<text x="1017" y="2601" class="m b w" font-size="38" textLength="410" lengthAdjust="spacingAndGlyphs">PERSENTASE KEPEMILIKAN SAHAM</text>
<rect x="157" y="2628" width="1834" height="228" fill="none" stroke="#d0d0d0" stroke-width="3"/>
<rect x="15" y="2628" width="137" height="35" rx="5" fill="#5b8132"/>
<rect x="15" y="2668" width="137" height="35" rx="5" fill="#930000"/>
<text x="84" y="2654" class="m b w" font-size="24" textLength="78" lengthAdjust="spacingAndGlyphs">LOKAL</text>
<text x="83" y="2694" class="m b w" font-size="24" textLength="75" lengthAdjust="spacingAndGlyphs">ASING</text>

<line x1="219" y1="2666" x2="1812" y2="2666" stroke="#e07b39" stroke-width="4"/>
<line x1="219" y1="2661" x2="1812" y2="2661" stroke="#fff" stroke-width="5"/>
<line x1="1812" y1="2663" x2="1925" y2="2801" stroke="#fff" stroke-width="3"/>
<line x1="219" y1="2801" x2="1925" y2="2801" stroke="#fff" stroke-width="4"/>

<use href="#gb" transform="translate(1930 2800) rotate(-20)"/>
<g class="ol">
<g transform="translate(219.5 2663) rotate(-20)"><use href="#gb"/><text y="7" textLength="60" lengthAdjust="spacingAndGlyphs">40.6%</text></g>
<g transform="translate(333.2 2665) rotate(-20)"><use href="#gb"/><text y="7" textLength="60" lengthAdjust="spacingAndGlyphs">40.4%</text></g>
<g transform="translate(447 2663) rotate(-20)"><use href="#gb"/><text y="7" textLength="60" lengthAdjust="spacingAndGlyphs">40.6%</text></g>
<g transform="translate(560.7 2663) rotate(-20)"><use href="#gb"/><text y="7" textLength="60" lengthAdjust="spacingAndGlyphs">40.6%</text></g>
<g transform="translate(674.4 2663) rotate(-20)"><use href="#gb"/><text y="7" textLength="60" lengthAdjust="spacingAndGlyphs">40.6%</text></g>
<g transform="translate(788.2 2663) rotate(-20)"><use href="#gb"/><text y="7" textLength="60" lengthAdjust="spacingAndGlyphs">40.6%</text></g>
<g transform="translate(901.9 2663) rotate(-20)"><use href="#gb"/><text y="7" textLength="60" lengthAdjust="spacingAndGlyphs">40.6%</text></g>
<g transform="translate(1015.6 2663) rotate(-20)"><use href="#gb"/><text y="7" textLength="60" lengthAdjust="spacingAndGlyphs">40.6%</text></g>
<g transform="translate(1129.3 2663) rotate(-20)"><use href="#gb"/><text y="7" textLength="60" lengthAdjust="spacingAndGlyphs">40.6%</text></g>
<g transform="translate(1243.1 2663) rotate(-20)"><use href="#gb"/><text y="7" textLength="60" lengthAdjust="spacingAndGlyphs">40.6%</text></g>
<g transform="translate(1356.8 2663) rotate(-20)"><use href="#gb"/><text y="7" textLength="60" lengthAdjust="spacingAndGlyphs">40.6%</text></g>
<g transform="translate(1470.5 2663) rotate(-20)"><use href="#gb"/><text y="7" textLength="60" lengthAdjust="spacingAndGlyphs">40.6%</text></g>
<g transform="translate(1584.3 2663) rotate(-20)"><use href="#gb"/><text y="7" textLength="60" lengthAdjust="spacingAndGlyphs">40.6%</text></g>
<g transform="translate(1698 2663) rotate(-20)"><use href="#gb"/><text y="7" textLength="60" lengthAdjust="spacingAndGlyphs">40.6%</text></g>
<g transform="translate(1811.7 2663) rotate(-20)"><use href="#gb"/><text y="7" textLength="60" lengthAdjust="spacingAndGlyphs">40.6%</text></g>
</g>

<g fill="#960000">
<rect x="187.5" y="2782" width="64" height="38"/><rect x="301.2" y="2781" width="64" height="38"/><rect x="415" y="2782" width="64" height="38"/><rect x="528.7" y="2782" width="64" height="38"/>
<rect x="642.4" y="2782" width="64" height="38"/><rect x="756.2" y="2782" width="64" height="38"/><rect x="869.9" y="2782" width="64" height="38"/><rect x="983.6" y="2782" width="64" height="38"/>
<rect x="1097.3" y="2782" width="64" height="38"/><rect x="1211.1" y="2782" width="64" height="38"/><rect x="1324.8" y="2782" width="64" height="38"/><rect x="1438.5" y="2782" width="64" height="38"/>
<rect x="1552.3" y="2782" width="64" height="38"/><rect x="1666" y="2782" width="64" height="38"/><rect x="1779.7" y="2782" width="64" height="38"/><rect x="1893.4" y="2782" width="64" height="38"/>
</g>
<g class="ol">
<text x="219.5" y="2809" textLength="48" lengthAdjust="spacingAndGlyphs">0.0%</text>
<text x="333.2" y="2808" textLength="48" lengthAdjust="spacingAndGlyphs">0.3%</text>
<text x="447" y="2809" textLength="48" lengthAdjust="spacingAndGlyphs">0.1%</text>
<text x="560.7" y="2809" textLength="48" lengthAdjust="spacingAndGlyphs">0.0%</text>
<text x="674.4" y="2809" textLength="48" lengthAdjust="spacingAndGlyphs">0.0%</text>
<text x="788.2" y="2809" textLength="48" lengthAdjust="spacingAndGlyphs">0.0%</text>
<text x="901.9" y="2809" textLength="48" lengthAdjust="spacingAndGlyphs">0.0%</text>
<text x="1015.6" y="2809" textLength="48" lengthAdjust="spacingAndGlyphs">0.0%</text>
<text x="1129.3" y="2809" textLength="48" lengthAdjust="spacingAndGlyphs">0.0%</text>
<text x="1243.1" y="2809" textLength="48" lengthAdjust="spacingAndGlyphs">0.0%</text>
<text x="1356.8" y="2809" textLength="48" lengthAdjust="spacingAndGlyphs">0.0%</text>
<text x="1470.5" y="2809" textLength="48" lengthAdjust="spacingAndGlyphs">0.0%</text>
<text x="1584.3" y="2809" textLength="48" lengthAdjust="spacingAndGlyphs">0.0%</text>
<text x="1698" y="2809" textLength="48" lengthAdjust="spacingAndGlyphs">0.0%</text>
<text x="1811.7" y="2809" textLength="48" lengthAdjust="spacingAndGlyphs">0.0%</text>
<text x="1925.4" y="2809" textLength="48" lengthAdjust="spacingAndGlyphs">0.0%</text>
</g>
<g class="xl">
<text x="219.5" y="2846" textLength="74" lengthAdjust="spacingAndGlyphs">Q1 '22</text>
<text x="333.2" y="2846" textLength="74" lengthAdjust="spacingAndGlyphs">Q2 '22</text>
<text x="447" y="2846" textLength="74" lengthAdjust="spacingAndGlyphs">Q3 '22</text>
<text x="560.7" y="2846" textLength="74" lengthAdjust="spacingAndGlyphs">Q4 '22</text>
<text x="674.4" y="2846" textLength="74" lengthAdjust="spacingAndGlyphs">Q1 '23</text>
<text x="788.2" y="2846" textLength="74" lengthAdjust="spacingAndGlyphs">Q2 '23</text>
<text x="901.9" y="2846" textLength="74" lengthAdjust="spacingAndGlyphs">Q3 '23</text>
<text x="1015.6" y="2846" textLength="74" lengthAdjust="spacingAndGlyphs">Q4 '23</text>
<text x="1129.3" y="2846" textLength="74" lengthAdjust="spacingAndGlyphs">Q1 '24</text>
<text x="1243.1" y="2846" textLength="74" lengthAdjust="spacingAndGlyphs">Q2 '24</text>
<text x="1356.8" y="2846" textLength="74" lengthAdjust="spacingAndGlyphs">Q3 '24</text>
<text x="1470.5" y="2846" textLength="74" lengthAdjust="spacingAndGlyphs">Q4 '24</text>
<text x="1584.3" y="2846" textLength="74" lengthAdjust="spacingAndGlyphs">Q1 '25</text>
<text x="1698" y="2846" textLength="74" lengthAdjust="spacingAndGlyphs">Q2 '25</text>
<text x="1811.7" y="2846" textLength="74" lengthAdjust="spacingAndGlyphs">Q3 '25</text>
<text x="1925.4" y="2846" textLength="74" lengthAdjust="spacingAndGlyphs">Q4 '25</text>
</g>
</svg>
</body></html>
